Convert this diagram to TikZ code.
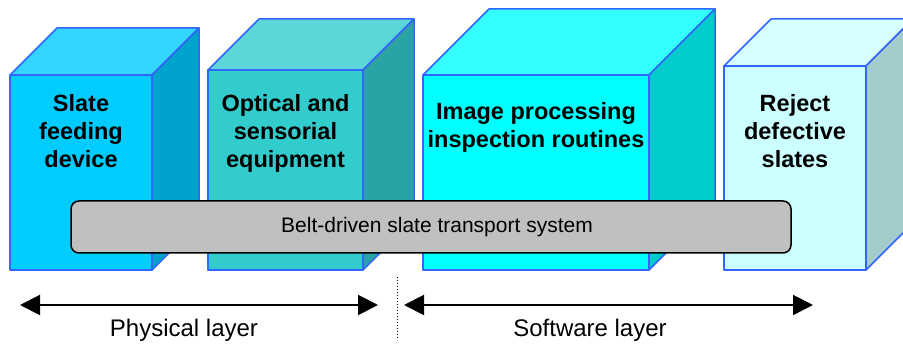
\documentclass[tikz,border=0pt]{standalone}
\usepackage{fontspec}
\setmainfont{Liberation Sans}
\usetikzlibrary{arrows.meta}

\definecolor{edgeblue}{RGB}{51,102,255}

\begin{document}
\begin{tikzpicture} [
            x=1pt, y=-1pt,
            face/.style     = { draw=edgeblue, line width=1.5pt, line join=round },
            label/.style    = { anchor=north, align=center, inner sep=0pt,
                                font=\fontsize{23.5}{28}\selectfont\bfseries },
            belt/.style     = { rectangle, draw=black, line width=1.5pt,
                                fill={rgb,255:red,192;green,192;blue,192},
                                rounded corners=8pt, minimum width=720pt,
                                minimum height=52pt, inner sep=0pt,
                                font=\fontsize{21}{25}\selectfont },
            layer/.style    = { anchor=base, inner sep=0pt,
                                font=\fontsize{24}{28}\selectfont },
            span/.style     = { line width=2pt,
                                {Triangle[length=20pt,width=20pt]}-{Triangle[length=20pt,width=20pt]} },
          ]
          \useasboundingbox (0,0) rectangle (903,344);

          % cuboids: left, right, top, depth, front, top face, side face
          \foreach \xa/\xb/\yt/\d/\cf/\ct/\cs in {
              10/152/75/47/{0,204,255}/{51,214,255}/{0,163,204},
              208/363/70/51/{51,204,204}/{92,214,214}/{41,163,163},
              423/649/75/66/{0,255,255}/{51,255,255}/{0,204,204},
              724/866/66/47/{204,255,255}/{214,255,255}/{163,204,204}} {
            \definecolor{cf}{RGB}{\cf}
            \definecolor{ct}{RGB}{\ct}
            \definecolor{cs}{RGB}{\cs}
            \draw [face, fill=cf] (\xa,\yt) rectangle (\xb,270);
            \draw [face, fill=ct] (\xa,\yt) -- ++(\d,-\d) -- (\xb+\d,\yt-\d)
                                  -- (\xb,\yt) -- cycle;
            \draw [face, fill=cs] (\xb,\yt) -- ++(\d,-\d) -- (\xb+\d,270-\d)
                                  -- (\xb,270) -- cycle;
          }

          \node (feed)    [label] at (81,94)    {Slate\\feeding\\device};
          \node (optic)   [label] at (285.5,94) {Optical and\\sensorial\\equipment};
          \node (imgproc) [label] at (536,102.7) {Image processing\\inspection routines};
          \node (reject)  [label] at (795,94)   {Reject\\defective\\slates};

          \node (transport) [belt] at (431,227) {\hspace{12pt}Belt-driven slate transport system};

          \coordinate (physL) at (20,305);
          \coordinate (physR) at (378,305);
          \coordinate (softL) at (404,305);
          \coordinate (softR) at (813,305);
          \coordinate (divtop) at (397,277);
          \coordinate (divbot) at (397,338);

          \draw [span] (physL) -- (physR);
          \draw [span] (softL) -- (softR);
          \draw [dotted, line width=1pt] (divtop) -- (divbot);

          \node (physical) [layer] at (184,337) {Physical layer};
          \node (software) [layer] at (590,337) {Software layer};
\end{tikzpicture}
\end{document}
